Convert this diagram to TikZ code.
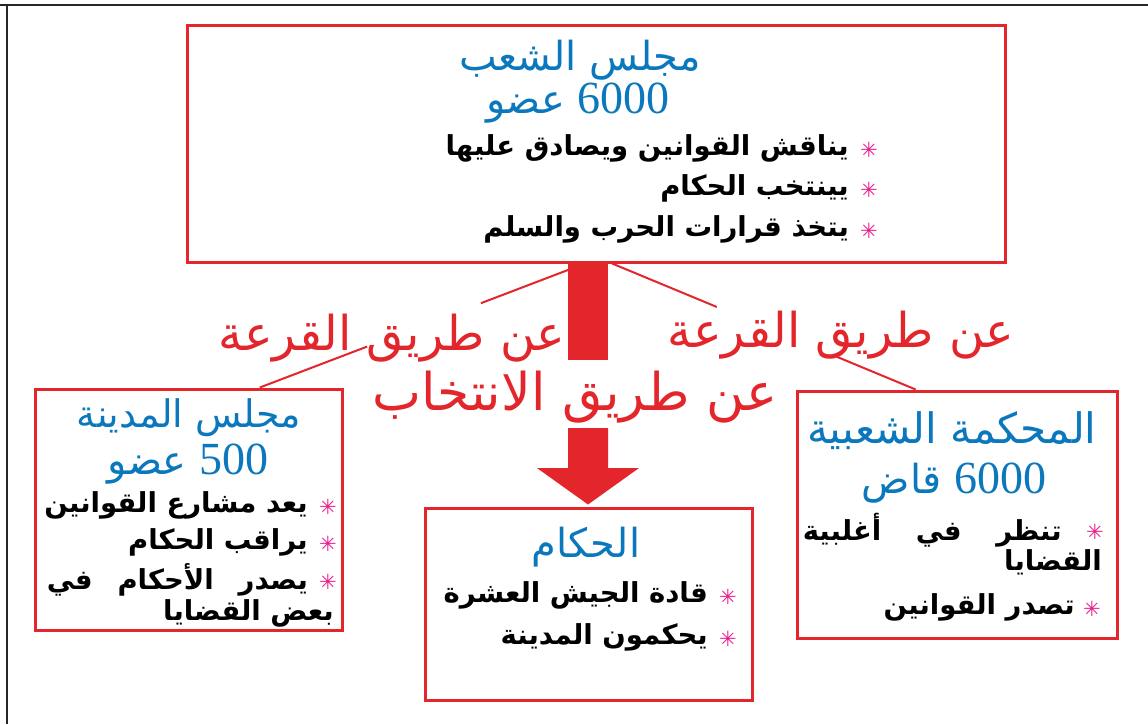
\documentclass[tikz,border=0pt]{standalone}
\usepackage{fontspec}
\TeXXeTstate=1
\newfontfamily\arabicfont[Script=Arabic]{DejaVu Sans}
\newfontfamily\numfont{Liberation Serif}
\newfontfamily\starfont{DejaVu Sans}
\usetikzlibrary{calc}
\definecolor{boxred}{HTML}{E3262B}
\definecolor{titleblue}{HTML}{0B78BD}
\definecolor{starpink}{HTML}{EC1C8C}
\newcommand{\artext}[1]{\beginR #1\endR}
\newcommand{\numtxt}[1]{\beginL{\numfont\fontsize{46}{48}\selectfont #1}\endL{}}
\tikzset{
  box/.style={draw=boxred, line width=3pt, inner sep=0pt},
  ttl/.style={text=titleblue, font=\arabicfont\fontsize{40}{44}\selectfont, inner sep=0pt},
  item/.style={text=black, font=\arabicfont\bfseries\fontsize{27.5}{32}\selectfont, inner sep=0pt, anchor=east},
  star/.style={text=starpink, font=\starfont\bfseries\fontsize{21}{24}\selectfont, inner sep=0pt},
  lbl/.style={text=boxred, font=\arabicfont\fontsize{48}{52}\selectfont, inner sep=0pt},
  link/.style={draw=boxred, line width=2pt},
  frame/.style={draw=black!85, line width=2.5pt},
}
\begin{document}
\begin{tikzpicture}[x=1pt,y=-1pt]
\useasboundingbox (0,0) rectangle (1148,724);
\fill[white] (0,0) rectangle (1148,724);
% page frame
\draw[frame] (0,5) -- (1148,5);
\draw[frame] (7,5) -- (7,724);

% boxes
\node[box, minimum width=818pt, minimum height=237pt] (top) at (596,143.5) {};
\node[box, minimum width=307pt, minimum height=241pt] (city) at (188.5,509.5) {};
\node[box, minimum width=327pt, minimum height=192pt] (rulers) at (588.5,604) {};
\node[box, minimum width=320pt, minimum height=247pt] (court) at (957,514.5) {};

% top box text
\node[ttl] (topt) at (580,60) {\artext{مجلس الشعب}};
\node[ttl] (topn) at (578,103) {\artext{\numtxt{6000} عضو}};
\node[item] (t1) at (849,148) {\artext{يناقش القوانين ويصادق عليها}};
\node[item] (t2) at (849,188) {\artext{يينتخب الحكام}};
\node[item] (t3) at (849,229) {\artext{يتخذ قرارات الحرب والسلم}};
\node[star] (s1) at (869,150) {✳};
\node[star] (s2) at (869,190) {✳};
\node[star] (s3) at (869,231) {✳};

% city council
\node[ttl, font=\arabicfont\fontsize{38}{42}\selectfont] (ct) at (189,418) {\artext{مجلس المدينة}};
\node[ttl] (cn) at (188,464) {\artext{\numtxt{500} عضو}};
\node[item] (c1) at (308,505) {\artext{يعد مشارع القوانين}};
\node[item] (c2) at (308,542) {\artext{يراقب الحكام}};
\node[item] (c3) at (308,580) {\hbox to 261pt{\beginR يصدر\hfill الأحكام\hfill في\endR}};
\node[item] (c4) at (334,613) {\artext{بعض القضايا}};
\node[star] (cs1) at (328,507) {✳};
\node[star] (cs2) at (328,544) {✳};
\node[star] (cs3) at (328,582) {✳};

% rulers
\node[ttl] (rt) at (586,547) {\artext{الحكام}};
\node[item] (r1) at (708,595) {\artext{قادة الجيش العشرة}};
\node[item] (r2) at (708,637) {\artext{يحكمون المدينة}};
\node[star] (rs1) at (728,597) {✳};
\node[star] (rs2) at (728,639) {✳};

% court
\node[ttl, font=\arabicfont\fontsize{42}{46}\selectfont] (kt) at (952,431) {\artext{المحكمة الشعبية}};
\node[ttl] (kn) at (954,483) {\artext{\numtxt{6000} قاض}};
\node[item] (k1) at (1062,530) {\hbox to 259pt{\beginR تنظر\hfill في\hfill أغلبية\endR}};
\node[item] (k2) at (1102,562) {\artext{القضايا}};
\node[item] (k3) at (1075,607) {\artext{تصدر القوانين}};
\node[star] (ks1) at (1095,532) {✳};
\node[star] (ks3) at (1092,609) {✳};

% connectors
\coordinate (ls) at ($(top.south west)!0.4866!(top.south east)$);
\coordinate (le) at ($(city.north west)!0.73!(city.north east)$);
\coordinate (rs) at ($(top.south west)!0.5196!(top.south east)$);
\coordinate (re) at ($(court.north west)!0.372!(court.north east)$);
\draw[link] (ls) -- ($(ls)!0.32!(le)$) ($(ls)!0.67!(le)$) -- (le);
\draw[link] (rs) -- ($(rs)!0.345!(re)$) ($(rs)!0.74!(re)$) -- (re);

% thick arrow
\coordinate (ax) at (588,262);
\coordinate (tip) at (rulers.north -| ax);
\fill[boxred] ($(ax)+(-20,0)$) rectangle ($(ax)+(20,98)$);
\fill[boxred] ($(ax)+(-20,166)$) -- ($(ax)+(20,166)$) -- ($(ax)+(20,206)$) -- ($(ax)+(51,206)$) -- ($(tip)+(0,-2)$) -- ($(ax)+(-51,206)$) -- ($(ax)+(-20,206)$) -- cycle;

% labels
\node[lbl] (lab1) at (392,338) {\artext{عن طريق القرعة}};
\node[lbl] (lab2) at (841,335) {\artext{عن طريق القرعة}};
\node[lbl, font=\arabicfont\fontsize{52}{56}\selectfont] (lab3) at (575,397) {\artext{عن طريق الانتخاب}};
\end{tikzpicture}
\end{document}
